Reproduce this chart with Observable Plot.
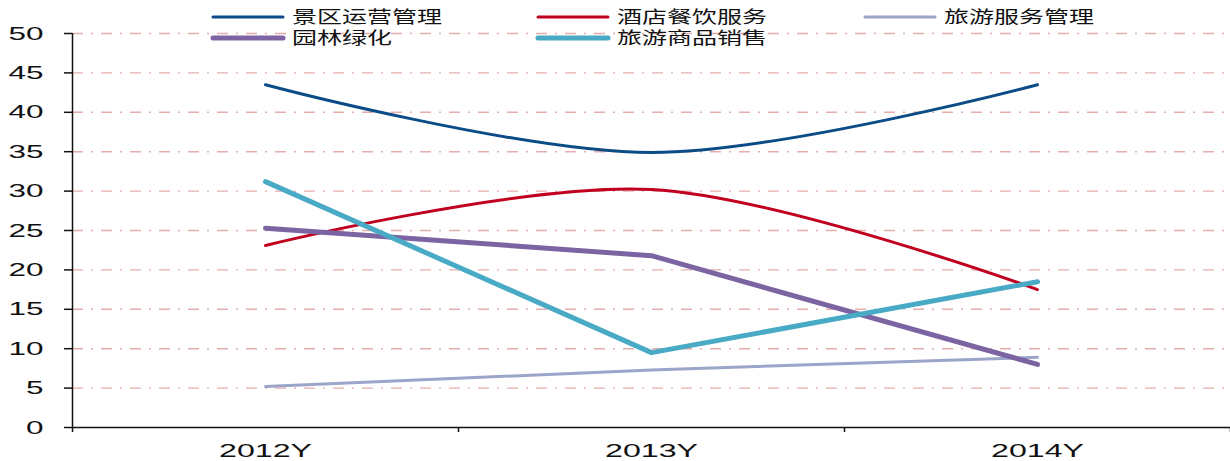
<!DOCTYPE html>
<html><head><meta charset="utf-8">
<script src="https://cdn.jsdelivr.net/npm/d3@7"></script>
<script src="https://cdn.jsdelivr.net/npm/@observablehq/plot@0.6"></script>
<style>
body{margin:0;background:#fff;}
#chart{position:relative;width:1230px;height:461px;}
</style></head><body><div id="chart"></div>
<script>
// ---- data ----
const years = ["2012Y", "2013Y", "2014Y"];
const seriesNames = ["景区运营管理", "酒店餐饮服务", "旅游服务管理", "园林绿化", "旅游商品销售"];
const scenicOps = [43.5, 34.9, 43.5];
const hotelCatering = [23.1, 30.2, 17.5];
const tourismServiceMgmt = [5.2, 7.3, 8.9];
const landscaping = [25.3, 21.8, 8.0];
const souvenirSales = [31.2, 9.5, 18.5];
const yTicks = [0, 5, 10, 15, 20, 25, 30, 35, 40, 45, 50];

// ---- styles ----
const seriesValues = [scenicOps, hotelCatering, tourismServiceMgmt, landscaping, souvenirSales];
const seriesColors = ["#0b4c86", "#c0001e", "#9aa5c9", "#7c63a2", "#48aac5"];
const seriesWidths = [3, 3, 3, 5, 5];
const seriesCurves = ["catmull-rom", "catmull-rom", "linear", "linear", "linear"];

const W = 1230, H = 461;
const lineMarks = seriesValues.map((vals, s) =>
  Plot.line(years.map((y, i) => ({i, year: y, value: vals[i]})), {
    x: "i", y: "value",
    stroke: seriesColors[s], strokeWidth: seriesWidths[s],
    curve: seriesCurves[s], strokeLinecap: "round", strokeLinejoin: "round"
  })
);

const svg = Plot.plot({
  width: W, height: H,
  marginLeft: 72, marginRight: 0, marginTop: 33, marginBottom: 34,
  style: {fontFamily: "'Liberation Sans', Arial, sans-serif", background: "#fff", overflow: "visible"},
  x: {domain: [-0.5, 2.5], axis: null},
  y: {domain: [0, 50], axis: null},
  marks: [
    Plot.ruleY(yTicks.filter(d => d > 0), {x1: -0.5, x2: 2.49, stroke: "#e6adad", strokeWidth: 1.4, strokeDasharray: "11,8,2,8"}),
    ...lineMarks,
    Plot.ruleY([0], {stroke: "#111", strokeWidth: 1.5}),
    Plot.ruleX([-0.5], {stroke: "#111", strokeWidth: 1.5}),
    Plot.axisY({ticks: yTicks, tickSize: 8, tickPadding: 21, fontSize: 19, stroke: "#111", strokeWidth: 1.5, label: null, color: "#111"}),
    Plot.axisX({ticks: [-0.5, 0.5, 1.5, 2.5], tickSize: 5, tickFormat: () => "", stroke: "#111", strokeWidth: 1.5, label: null}),
    Plot.axisX({ticks: [0, 1, 2], tickSize: 0, tickPadding: 17, fontSize: 18, tickFormat: i => years[i], label: null, color: "#111"})
  ]
});

document.getElementById("chart").appendChild(svg);

// stretch tick labels horizontally like the reference
d3.select(svg).selectAll('g[aria-label="y-axis tick label"] text').each(function() {
  const t = this.textContent;
  this.setAttribute("textLength", t.length * 17.5);
  this.setAttribute("lengthAdjust", "spacingAndGlyphs");
});
d3.select(svg).selectAll('g[aria-label="x-axis tick label"] text').each(function() {
  const t = this.textContent;
  if (t) { this.setAttribute("textLength", 93); this.setAttribute("lengthAdjust", "spacingAndGlyphs"); }
});

// legend overlay
const legCols = [213, 538, 865], legRows = [17, 38];
const legPos = [[0,0],[1,0],[2,0],[0,1],[1,1]];
const lg = d3.select(svg).append("g").attr("class", "legend").attr("text-anchor", "start");
seriesNames.forEach((name, s) => {
  const x = legCols[legPos[s][0]], y = legRows[legPos[s][1]];
  lg.append("line").attr("x1", x).attr("x2", x + 70).attr("y1", y).attr("y2", y)
    .attr("stroke", seriesColors[s]).attr("stroke-width", seriesWidths[s]).attr("stroke-linecap", "round");
  lg.append("text").attr("x", x + 79).attr("y", y).attr("dy", "0.36em")
    .attr("text-anchor", "start")
    .attr("font-family", "'Noto Sans CJK SC', sans-serif").attr("font-size", 17).attr("fill", "#111")
    .attr("textLength", name.length * 25).attr("lengthAdjust", "spacingAndGlyphs")
    .text(name);
});
</script></body></html>
